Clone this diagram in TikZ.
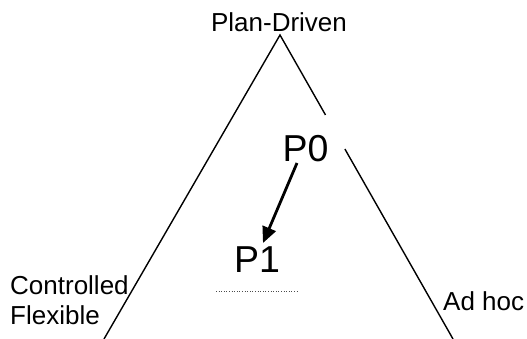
\documentclass[tikz,border=0pt]{standalone}
\usepackage{fontspec}
\setmainfont{Liberation Sans}
\usetikzlibrary{arrows.meta,calc}
\begin{document}
\begin{tikzpicture}[x=1pt,y=1pt,
  lbl/.style={inner sep=0pt,font=\fontsize{26}{30}\selectfont},
  big/.style={inner sep=0pt,font=\fontsize{37.5}{40}\selectfont},
  side/.style={line width=1.4pt,black}]
\useasboundingbox (0,0) rectangle (527,339);
\coordinate (apex) at (280,304);
\coordinate (L) at (104,0);
\coordinate (R) at (453,0);
\coordinate (g1) at ($(apex)!0.263!(R)$);
\coordinate (g2) at ($(apex)!0.375!(R)$);
\draw[side] (L) -- (apex) -- (g1);
\draw[side] (g2) -- (R);
\node[lbl,anchor=base] (plan) at (279,307) {Plan-Driven};
\node[lbl,anchor=base west] (ctrl) at (10,44) {Controlled};
\node[lbl,anchor=base west] (flex) at (10,14) {Flexible};
\node[lbl,anchor=base west] (adhoc) at (443,28) {Ad hoc};
\node[big,anchor=base] (p0) at (305.5,177) {P0};
\node[big,anchor=base] (p1) at (257,66) {P1};
\coordinate (a0) at (297,176);
\coordinate (a1) at (263,96);
\draw[line width=2.8pt,-{Triangle[length=16pt,width=14pt]}] (a0) -- (a1);
\coordinate (d0) at (216,48);
\coordinate (d1) at (298,48);
\draw[line width=0.6pt,dotted,black!70] (d0) -- (d1);
\end{tikzpicture}
\end{document}
